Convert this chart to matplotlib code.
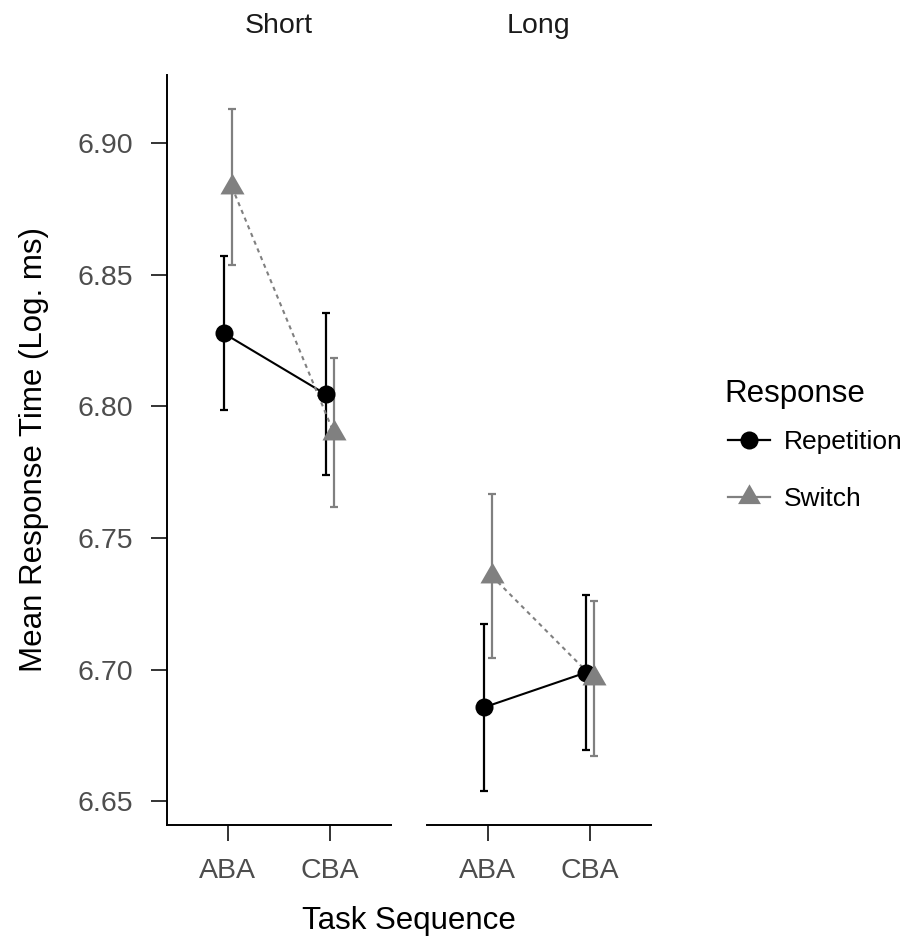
import numpy as np
import matplotlib
matplotlib.use('agg')
import matplotlib.pyplot as plt
from matplotlib.lines import Line2D

plt.rcParams['font.family'] = ['Liberation Sans', 'DejaVu Sans']

panels = ['Short', 'Long']
sequences = ['ABA', 'CBA']
responses = ['Repetition', 'Switch']

# mean log RT and error bar limits, one row per panel (ABA, CBA)
rep_mean = [[6.8277, 6.8046], [6.6856, 6.6988]]
rep_lo = [[6.7984, 6.7737], [6.6539, 6.6693]]
rep_hi = [[6.8572, 6.8355], [6.7172, 6.7282]]
sw_mean = [[6.8833, 6.7900], [6.7355, 6.6966]]
sw_lo = [[6.8538, 6.7617], [6.7045, 6.6672]]
sw_hi = [[6.9127, 6.8184], [6.7665, 6.7260]]

yticks = [6.65, 6.70, 6.75, 6.80, 6.85, 6.90]

W, H = 906, 942
fig = plt.figure(figsize=(W / 100, H / 100), dpi=100)

def fx(px):
    return px / W

def fy(py):
    return 1 - py / H

# y range like ggplot: data range plus 5% each side
lo_all = min(np.min(rep_lo), np.min(sw_lo))
hi_all = max(np.max(rep_hi), np.max(sw_hi))
pad = 0.05 * (hi_all - lo_all)
ylim = (lo_all - pad, hi_all + pad)

ax_left = [166.7, 426.7]
ax_w = 224
ax_bot = 825
ax_top = 75.4

grey = '#808080'
tick_col = '#333333'
lab_col = '#4D4D4D'
tick_fs = 20.5
strip_fs = 20.5
leg_fs = 19
title_fs = 22.5

tri = [(0, 1), (-0.866, -0.5), (0.866, -0.5)]
styles = {
    'Repetition': dict(color='black', marker='o', ms=13, ls='-', dx=-0.04),
    'Switch': dict(color=grey, marker=tri, ms=20, ls=(0, (2, 2)), dx=0.04),
}

x = np.arange(1, len(sequences) + 1)
for i, panel in enumerate(panels):
    ax = fig.add_axes([fx(ax_left[i]), fy(ax_bot), fx(ax_w), (ax_bot - ax_top) / H])
    data = {
        'Repetition': (rep_mean[i], rep_lo[i], rep_hi[i]),
        'Switch': (sw_mean[i], sw_lo[i], sw_hi[i]),
    }
    for r in responses:
        st = styles[r]
        m, lo, hi = (np.array(v) for v in data[r])
        xs = x + st['dx']
        ax.errorbar(xs, m, yerr=[m - lo, hi - m], fmt='none', ecolor=st['color'],
                    elinewidth=1.6, capsize=2.6, capthick=1.6, zorder=2)
        ax.plot(xs, m, color=st['color'], ls=st['ls'], lw=1.5, zorder=3)
        ax.plot(xs, m, color=st['color'], marker=st['marker'], ms=st['ms'],
                ls='none', mew=0, zorder=4)
    ax.set_xlim(0.4, 2.6)
    ax.set_ylim(*ylim)
    ax.set_xticks(x)
    ax.set_xticklabels(sequences)
    ax.set_yticks(yticks)
    ax.set_yticklabels([f'{t:.2f}' for t in yticks])
    for s in ['top', 'right']:
        ax.spines[s].set_visible(False)
    ax.spines['bottom'].set_linewidth(1.4)
    ax.spines['left'].set_linewidth(1.4)
    ax.tick_params(axis='both', length=11.5, width=1.4, color=tick_col,
                   labelcolor=lab_col, labelsize=tick_fs)
    ax.tick_params(axis='x', pad=12)
    ax.tick_params(axis='y', pad=12.5)
    if i > 0:
        ax.spines['left'].set_visible(False)
        ax.tick_params(axis='y', left=False, labelleft=False)
    fig.text(fx(ax_left[i] + ax_w / 2), fy(32.7), panel, ha='center',
             va='baseline', fontsize=strip_fs, color='#1A1A1A')

fig.text(fx(409), fy(929), 'Task Sequence', ha='center', va='baseline',
         fontsize=title_fs)
fig.text(fx(34), fy(450), 'Mean Response Time (Log. ms)', ha='center', va='center',
         rotation=90, fontsize=title_fs)

fig.text(fx(724), fy(401.7), 'Response', ha='left', va='baseline', fontsize=title_fs)
handles = [Line2D([], [], color=styles[r]['color'], marker=styles[r]['marker'],
                  ms=styles[r]['ms'] * (0.95 if r == 'Switch' else 1), mew=0, lw=1.6)
           for r in responses]
fig.legend(handles, responses, loc='upper left',
           bbox_to_anchor=(fx(728), fy(430)), frameon=False, borderpad=0,
           borderaxespad=0, fontsize=leg_fs, handlelength=1.6,
           handletextpad=0.5, labelspacing=1.26)

fig.savefig('out.png', dpi=100)
